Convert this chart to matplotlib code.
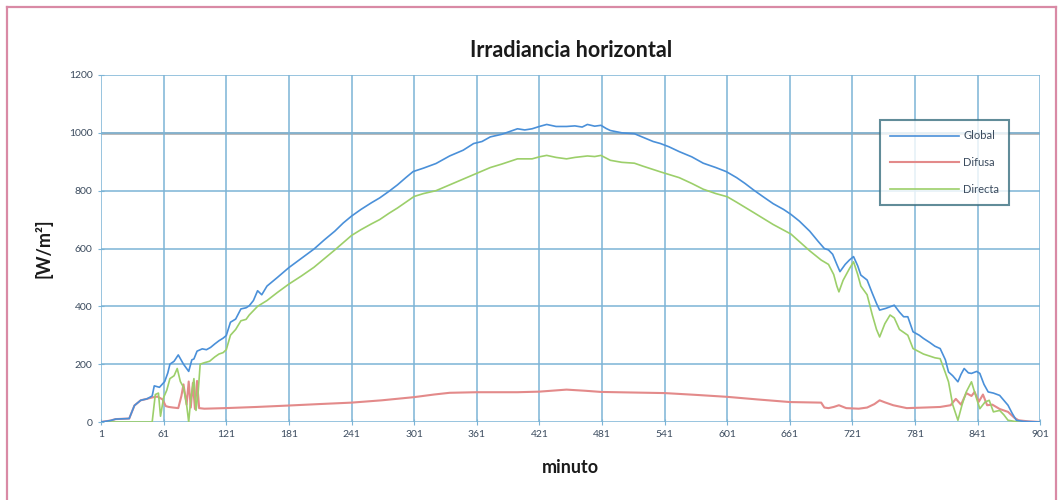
import numpy as np
import matplotlib
matplotlib.use("Agg")
from matplotlib import pyplot as plt
from matplotlib.lines import Line2D

# valores (minuto, W/m2)
global_min = [1, 10, 15, 28, 30, 33, 39, 45, 50, 52, 57, 62, 65, 67, 71, 75, 80, 85, 88, 90, 93, 98, 102, 106, 110, 114, 118, 121,
              125, 130, 135, 140, 143, 147, 151, 155, 160, 170, 181, 193, 205, 215, 225, 233, 241, 250, 260, 268, 277, 285, 293,
              300, 310, 322, 335, 348, 358, 366, 374, 385, 393, 400, 407, 414, 421, 428, 437, 447, 455, 462, 467, 474, 480, 485,
              489, 500, 512, 520, 530, 537, 545, 555, 567, 578, 590, 600, 610, 618, 626, 635, 645, 655, 662, 670, 680, 688, 694,
              698, 702, 706, 709, 714, 718, 722, 726, 729, 735, 740, 744, 747, 753, 758, 761, 766, 770, 774, 779, 785, 789, 795,
              800, 805, 810, 813, 817, 822, 825, 828, 832, 835, 840, 843, 847, 851, 856, 862, 866, 870, 874, 878, 885, 901]
global_val = [0, 5, 10, 12, 30, 57, 75, 80, 90, 125, 120, 140, 170, 200, 210, 232, 200, 175, 215, 218, 245, 253, 250, 258, 270, 281, 290, 299,
              345, 356, 391, 395, 402, 420, 454, 440, 470, 500, 534, 566, 598, 630, 660, 688, 712, 735, 758, 775, 798, 820, 845,
              866, 878, 894, 920, 940, 963, 970, 986, 995, 1005, 1014, 1010, 1014, 1022, 1029, 1022, 1022, 1024, 1020, 1029, 1023, 1026, 1015,
              1008, 1000, 997, 985, 970, 963, 952, 935, 917, 895, 880, 866, 845, 825, 803, 780, 755, 735, 718, 695, 660, 625, 600,
              595, 580, 545, 520, 545, 560, 572, 540, 508, 491, 445, 410, 387, 393, 400, 404, 380, 364, 364, 312, 300, 289, 275,
              262, 254, 215, 173, 160, 139, 165, 185, 170, 168, 175, 168, 130, 104, 100, 92, 75, 58, 30, 6, 2, 0]

difusa_min = [1, 10, 15, 28, 30, 33, 39, 45, 50, 55, 60, 63, 66, 70, 75, 78, 80, 83, 85, 87, 89, 91, 93, 95, 100, 120, 150, 181, 210,
              241, 270, 301, 320, 335, 361, 400, 421, 447, 465, 480, 510, 541, 570, 601, 630, 661, 691, 694, 698, 703, 708, 715,
              727, 735, 742, 747, 752, 760, 773, 790, 805, 815, 820, 825, 830, 835, 838, 842, 846, 850, 855, 862, 870, 876, 880,
              890, 901]
difusa_val = [0, 5, 10, 12, 30, 57, 75, 80, 85, 88, 78, 55, 52, 50, 48, 90, 130, 60, 140, 50, 135, 45, 142, 48, 46, 48, 52, 57, 62,
              67, 75, 86, 95, 101, 103, 103, 105, 112, 108, 104, 102, 100, 94, 87, 78, 69, 67, 50, 48, 52, 58, 48,
              46, 50, 62, 75, 68, 58, 48, 50, 52, 58, 80, 60, 100, 90, 104, 70, 95, 58, 60, 45, 35, 15, 6,
              2, 0]

directa_min = [1, 50, 53, 56, 58, 61, 64, 67, 71, 74, 77, 80, 83, 85, 87, 90, 92, 94, 96, 100, 105, 110, 114, 118, 121, 125, 130,
               135, 140, 143, 147, 151, 160, 170, 181, 193, 205, 215, 225, 233, 241, 250, 260, 268, 277, 285, 293, 301, 310, 322,
               335, 348, 361, 374, 385, 400, 414, 421, 428, 437, 447, 455, 467, 474, 480, 489, 500, 512, 520, 537, 555, 567, 578,
               590, 601, 610, 626, 645, 662, 680, 691, 698, 703, 706, 708, 712, 718, 722, 726, 729, 735, 740, 744, 747, 752, 757,
               761, 766, 770, 774, 779, 789, 800, 805, 810, 813, 817, 822, 826, 830, 835, 840, 843, 848, 852, 856, 862, 866, 870,
               880, 901]
directa_val = [0, 0, 95, 100, 20, 85, 110, 150, 160, 185, 140, 120, 60, 0, 80, 150, 40, 100, 200, 205, 210, 225, 235, 240, 250, 300, 320,
               350, 355, 370, 385, 400, 420, 448, 477, 505, 535, 565, 595, 620, 645, 665, 685, 700, 722, 740, 760, 780, 790, 800,
               820, 840, 860, 880, 892, 910, 910, 917, 922, 915, 910, 915, 920, 918, 922, 905, 898, 895, 885, 865, 845, 825, 805,
               790, 779, 760, 725, 683, 650, 592, 560, 545, 510, 470, 450, 490, 530, 554, 510, 470, 440, 370, 320, 294, 340, 370,
               360, 320, 310, 300, 254, 235, 222, 219, 170, 139, 60, 6, 60, 104, 139, 80, 46, 69, 75, 35, 40, 25, 6,
               0, 0]

xticks = list(range(1, 902, 60))
yticks = list(range(0, 1201, 200))

c_global = "#4a90d9"
c_difusa = "#e38a8a"
c_directa = "#9ccf6a"
c_grid = "#7cb4d6"
c_text = "#3b4b5e"

plt.rcParams['font.family'] = ['Lato', 'DejaVu Sans']

fig = plt.figure(figsize=(10.59, 5.0), dpi=100)
ax = fig.add_axes([0.0954, 0.156, 0.887, 0.694])

# marco rosa de la imagen
fig.add_artist(Line2D([0.0066, 0.0066], [0.0, 0.986], color="#d98aa5", lw=1.6, transform=fig.transFigure))
fig.add_artist(Line2D([0.0066, 0.997], [0.986, 0.986], color="#d98aa5", lw=1.6, transform=fig.transFigure))
fig.add_artist(Line2D([0.997, 0.997], [0.0, 0.986], color="#d98aa5", lw=1.6, transform=fig.transFigure))

ax.plot(difusa_min, difusa_val, color=c_difusa, lw=1.5, label="Difusa", zorder=3)
ax.plot(directa_min, directa_val, color=c_directa, lw=1.2, label="Directa", zorder=4)
ax.plot(global_min, global_val, color=c_global, lw=1.2, label="Global", zorder=5)

ax.set_xlim(1, 901)
ax.set_ylim(0, 1200)
ax.set_xticks(xticks)
ax.set_yticks(yticks)
ax.tick_params(axis='both', labelsize=7.5, labelcolor=c_text, color=c_grid, direction='inout', length=5)
ax.grid(True, color=c_grid, lw=1.1)
for s in ax.spines.values():
    s.set_visible(False)
ax.axhline(1000, color="#a5a5a5", lw=1.8, zorder=1)

ax.set_title("Irradiancia horizontal", fontsize=15.5, fontweight='bold', color="#1a1a1a", pad=13)
ax.set_xlabel("minuto", fontsize=13, fontweight='bold', color="#1a1a1a", labelpad=14)
ax.set_ylabel("[W/m²]", fontsize=13, fontweight='bold', color="#1a1a1a", labelpad=12)

h, l = ax.get_legend_handles_labels()
order = [2, 0, 1]
leg = ax.legend([h[i] for i in order], [l[i] for i in order], loc='upper right', bbox_to_anchor=(0.973, 0.885),
                fontsize=8, frameon=True, fancybox=False, handlelength=6.2, labelspacing=1.4, borderpad=0.9,
                handletextpad=0.4, labelcolor=c_text)
leg.get_frame().set_edgecolor("#3a6f80")
leg.get_frame().set_linewidth(1.5)

fig.savefig("out.png", dpi=100)
